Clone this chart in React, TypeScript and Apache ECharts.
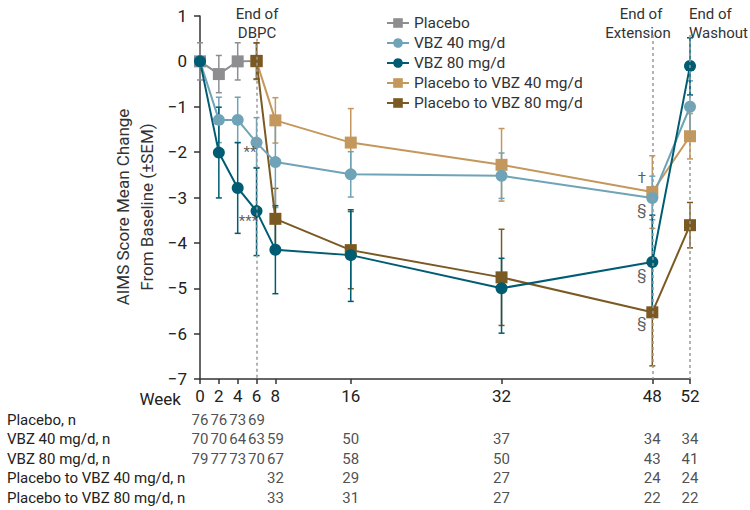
import React, { useEffect, useRef } from "react";
import * as echarts from "echarts";

// ---------- data ----------
const weeksAll = [0, 2, 4, 6, 8, 16, 32, 48, 52];
const weeksPlacebo = [0, 2, 4, 6];
const weeksSwitch = [6, 8, 16, 32, 48, 52];
const tickWeeks = [0, 2, 4, 6, 8, 16, 32, 48, 52];

const placeboMean = [0, -0.28, 0, 0.01];
const placeboSem = [0.41, 0.41, 0.41, 0.4];

const vbz40Mean = [0, -1.29, -1.29, -1.79, -2.22, -2.49, -2.52, -3.01, -1.0];
const vbz40Sem = [0, 0.5, 0.5, 0.55, 1.0, 0.5, 0.5, 0.48, 0.57];

const vbz80Mean = [0, -2.01, -2.79, -3.3, -4.15, -4.27, -5.0, -4.42, -0.1];
const vbz80SemUp = [0, 1.0, 1.0, 0.95, 0.97, 1.0, 0.66, 1.03, 0.62];
const vbz80SemDown = [0, 1.0, 1.0, 0.98, 0.97, 1.02, 0.99, 1.1, 0.64];

const p40Mean = [0, -1.3, -1.79, -2.28, -2.88, -1.65];
const p40Sem = [0.4, 0.5, 0.75, 0.8, 0.8, 0.5];

const p80Mean = [0.01, -3.47, -4.16, -4.76, -5.53, -3.61];
const p80Sem = [0.4, 0.67, 0.85, 1.06, 1.18, 0.5];

const seriesNames = [
  "Placebo",
  "VBZ 40 mg/d",
  "VBZ 80 mg/d",
  "Placebo to VBZ 40 mg/d",
  "Placebo to VBZ 80 mg/d",
];

const tableRows = [
  "Placebo, n",
  "VBZ 40 mg/d, n",
  "VBZ 80 mg/d, n",
  "Placebo to VBZ 40 mg/d, n",
  "Placebo to VBZ 80 mg/d, n",
];
const nPlacebo = [76, 76, 73, 69];
const nVbz40 = [70, 70, 64, 63, 59, 50, 37, 34, 34];
const nVbz80 = [79, 77, 73, 70, 67, 58, 50, 43, 41];
const nP40 = [32, 29, 27, 24, 24];
const nP80 = [33, 31, 27, 22, 22];
const weeksSwitchN = [8, 16, 32, 48, 52];

const dashedWeeks = [6, 48, 52];
const dashedTop = [0.5, 0.58, 0.58];

const annotations = [
  { week: 5.3, value: -2.0, text: "**" },
  { week: 5.15, value: -3.52, text: "***" },
  { week: 46.9, value: -2.57, text: "†" },
  { week: 46.9, value: -3.28, text: "§" },
  { week: 46.9, value: -4.71, text: "§" },
  { week: 46.9, value: -5.76, text: "§" },
];

// ---------- styles ----------
const COLORS = {
  placebo: "#8e8e91",
  vbz40: "#6fa3b7",
  vbz80: "#005c72",
  p40: "#c4975c",
  p80: "#7a5a22",
};
const FONT = "Roboto, 'Noto Sans', sans-serif";

function errData(weeks: number[], mean: number[], up: number[], down: number[]) {
  const out: number[][] = [];
  weeks.forEach((w, i) => {
    if (up[i] > 0 || down[i] > 0) out.push([w, mean[i] - down[i], mean[i] + up[i]]);
  });
  return out;
}

function errSeries(name: string, color: string, data: number[][]) {
  return {
    type: "custom",
    name,
    xAxisIndex: 0,
    yAxisIndex: 0,
    silent: true,
    data,
    encode: { x: 0, y: [1, 2] },
    renderItem: (params: any, api: any) => {
      const x = api.value(0);
      const lo = api.coord([x, api.value(1)]);
      const hi = api.coord([x, api.value(2)]);
      const w = 3;
      const st = { stroke: color, lineWidth: 1.5 };
      return {
        type: "group",
        children: [
          { type: "line", shape: { x1: hi[0], y1: hi[1], x2: lo[0], y2: lo[1] }, style: st },
          { type: "line", shape: { x1: hi[0] - w, y1: hi[1], x2: hi[0] + w, y2: hi[1] }, style: st },
          { type: "line", shape: { x1: lo[0] - w, y1: lo[1], x2: lo[0] + w, y2: lo[1] }, style: st },
        ],
      };
    },
  };
}

function lineSeries(name: string, color: string, weeks: number[], mean: number[], symbol: string) {
  return {
    type: "line",
    name,
    xAxisIndex: 0,
    yAxisIndex: 0,
    data: weeks.map((w, i) => [w, mean[i]]),
    symbol,
    symbolSize: 12,
    showAllSymbol: true,
    lineStyle: { color, width: 2 },
    itemStyle: { color, borderWidth: 0 },
    emphasis: { disabled: true },
  };
}

function textScatter(xi: number, data: any[], fontSize: number, color: string) {
  return {
    type: "scatter",
    xAxisIndex: xi,
    yAxisIndex: xi,
    symbol: "circle",
    symbolSize: 1,
    itemStyle: { color: "rgba(0,0,0,0)" },
    silent: true,
    z: 5,
    data,
    labelLayout: { hideOverlap: false },
    label: {
      show: true,
      position: "inside",
      formatter: (p: any) => p.name,
      fontFamily: FONT,
      fontSize,
      color,
    },
  };
}

function nSeries(row: number, weeks: number[], values: number[]) {
  return textScatter(
    1,
    weeks.map((w, i) => ({ value: [w, row], name: String(values[i]) })),
    15,
    "#222"
  );
}

const minus = (v: number) => (v < 0 ? "\u2212" + Math.abs(v) : String(v));

export default function App() {
  const ref = useRef<HTMLDivElement>(null);
  useEffect(() => {
    if (!ref.current) return;
    const chart = echarts.init(ref.current, undefined, { renderer: "svg" });
    const hdr = (x: number, y: number, text: string, align: string) => ({
      type: "text",
      x,
      y,
      style: { text, fontSize: 15, fill: "#333", align, verticalAlign: "middle", fontFamily: FONT },
    });
    const option: any = {
      animation: false,
      backgroundColor: "#ffffff",
      textStyle: { fontFamily: FONT },
      grid: [
        { left: 200, right: 60, top: 16, bottom: 131 },
        { left: 200, right: 60, top: 410, height: 97.5 },
      ],
      xAxis: [
        {
          type: "value",
          gridIndex: 0,
          min: 0,
          max: 52,
          axisLine: { show: true, onZero: false, lineStyle: { color: "#333", width: 1.5 } },
          axisTick: { show: true, length: 5, customValues: tickWeeks, lineStyle: { color: "#333", width: 1.5 } },
          axisLabel: { customValues: tickWeeks, fontSize: 17, color: "#222", margin: 8, fontFamily: FONT },
          splitLine: { show: false },
        },
        {
          type: "value",
          gridIndex: 1,
          min: 0,
          max: 52,
          show: false,
        },
      ],
      yAxis: [
        {
          type: "value",
          gridIndex: 0,
          min: -7,
          max: 1,
          interval: 1,
          axisLine: { show: true, lineStyle: { color: "#333", width: 1.5 } },
          axisTick: { show: true, length: 6, lineStyle: { color: "#333", width: 1.5 } },
          axisLabel: { fontSize: 17, color: "#222", margin: 13, formatter: minus, fontFamily: FONT },
          splitLine: { show: false },
        },
        {
          type: "category",
          gridIndex: 1,
          inverse: true,
          data: tableRows,
          axisLine: { show: false },
          axisTick: { show: false },
          splitLine: { show: false },
          axisLabel: { interval: 0, align: "left", margin: 193, fontSize: 15, color: "#222", fontFamily: FONT },
        },
      ],
      legend: {
        orient: "vertical",
        left: 381,
        top: 10,
        itemWidth: 22,
        itemHeight: 12,
        itemGap: 4,
        data: seriesNames,
        textStyle: { fontSize: 15.5, color: "#333", lineHeight: 16, fontFamily: FONT },
        selectedMode: false,
      },
      graphic: [
        hdr(257, 14, "End of", "center"),
        hdr(257, 33, "DBPC", "center"),
        hdr(641, 14, "End of", "center"),
        hdr(638, 33, "Extension", "center"),
        hdr(689, 14, "End of", "left"),
        hdr(689, 33, "Washout", "left"),
        {
          type: "text",
          x: 181,
          y: 399,
          style: { text: "Week", fontSize: 17, fill: "#222", align: "right", verticalAlign: "middle", fontFamily: FONT },
        },
        {
          type: "text",
          x: 135,
          y: 207,
          rotation: Math.PI / 2,
          style: {
            text: "AIMS Score Mean Change\nFrom Baseline (±SEM)",
            fontSize: 17,
            lineHeight: 24,
            fill: "#333",
            align: "center",
            verticalAlign: "middle",
            fontFamily: FONT,
          },
        },
      ],
      series: [
        errSeries("err-placebo", COLORS.placebo, errData(weeksPlacebo, placeboMean, placeboSem, placeboSem)),
        errSeries("err-p40", COLORS.p40, errData(weeksSwitch, p40Mean, p40Sem, p40Sem)),
        errSeries("err-p80", COLORS.p80, errData(weeksSwitch, p80Mean, p80Sem, p80Sem)),
        errSeries("err-vbz40", COLORS.vbz40, errData(weeksAll, vbz40Mean, vbz40Sem, vbz40Sem)),
        errSeries("err-vbz80", COLORS.vbz80, errData(weeksAll, vbz80Mean, vbz80SemUp, vbz80SemDown)),
        {
          ...lineSeries(seriesNames[0], COLORS.placebo, weeksPlacebo, placeboMean, "rect"),
          markLine: {
            silent: true,
            symbol: ["none", "none"],
            label: { show: false },
            lineStyle: { color: "#9a9a9a", width: 1.5, type: [3, 3] },
            data: dashedWeeks.map((w, i) => [
              { coord: [w, dashedTop[i]] },
              { coord: [w, -7] },
            ]),
          },
        },
        lineSeries(seriesNames[3], COLORS.p40, weeksSwitch, p40Mean, "rect"),
        lineSeries(seriesNames[4], COLORS.p80, weeksSwitch, p80Mean, "rect"),
        lineSeries(seriesNames[1], COLORS.vbz40, weeksAll, vbz40Mean, "circle"),
        lineSeries(seriesNames[2], COLORS.vbz80, weeksAll, vbz80Mean, "circle"),
        textScatter(
          0,
          annotations.map((a) => ({ value: [a.week, a.value], name: a.text })),
          15,
          "#333"
        ),
        nSeries(0, weeksPlacebo, nPlacebo),
        nSeries(1, weeksAll, nVbz40),
        nSeries(2, weeksAll, nVbz80),
        nSeries(3, weeksSwitchN, nP40),
        nSeries(4, weeksSwitchN, nP80),
      ],
    };
    chart.setOption(option);
    return () => chart.dispose();
  }, []);
  return <div ref={ref} style={{ width: 750, height: 510, position: "absolute", left: 0, top: 0 }} />;
}
